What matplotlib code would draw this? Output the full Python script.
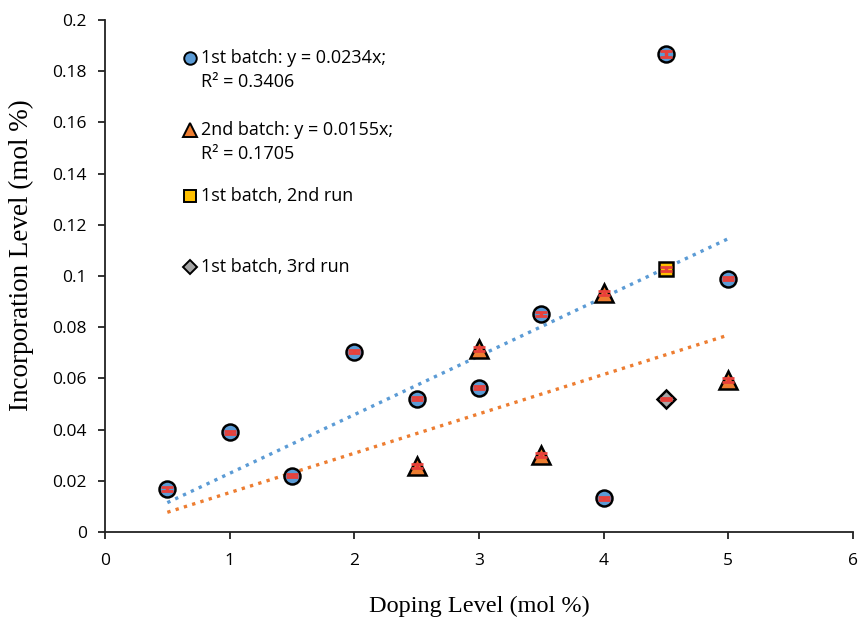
import numpy as np
import matplotlib
matplotlib.use("Agg")
import matplotlib.pyplot as plt

# ---- data ----
b1_x = [0.5, 1.0, 1.5, 2.0, 2.5, 3.0, 3.5, 4.0, 4.5, 5.0]
b1_y = [0.0168, 0.0390, 0.0219, 0.0704, 0.0520, 0.0564, 0.0852, 0.0132, 0.1866, 0.0990]
b1_err = [0.0008, 0.0006, 0.0006, 0.0006, 0.0006, 0.0006, 0.0008, 0.0006, 0.0012, 0.0006]

b2_x = [2.5, 3.0, 3.5, 4.0, 5.0]
b2_y = [0.0258, 0.0714, 0.0300, 0.0932, 0.0595]
b2_err = [0.0008, 0.0008, 0.0008, 0.0008, 0.0008]

run2_x = [4.5]
run2_y = [0.1027]
run2_err = [0.0008]

run3_x = [4.5]
run3_y = [0.0520]
run3_err = [0.0005]

legend_lines = [["1st batch: y = 0.0234x;", "R\u00b2 = 0.3406"],
                ["2nd batch: y = 0.0155x;", "R\u00b2 = 0.1705"],
                ["1st batch, 2nd run"],
                ["1st batch, 3rd run"]]

x_ticks = [0, 1, 2, 3, 4, 5, 6]
y_ticks = [0, 0.02, 0.04, 0.06, 0.08, 0.1, 0.12, 0.14, 0.16, 0.18, 0.2]
y_tick_labels = ["0", "0.02", "0.04", "0.06", "0.08", "0.1", "0.12", "0.14", "0.16", "0.18", "0.2"]

BLUE = "#5B9BD5"
ORANGE = "#ED7D31"
GOLD = "#FFC000"
GRAY = "#A5A5A5"
RED = "#E8403A"

tick_font = "Open Sans"
label_font = "Liberation Serif"

fig = plt.figure(figsize=(8.58, 6.29), dpi=100)
ax = fig.add_axes([105/858, 1-532/629, 748/858, 512/629])

# trendlines through origin (least squares)
def fit_origin(x, y):
    x = np.asarray(x); y = np.asarray(y)
    return (x*y).sum()/(x*x).sum()

s1 = fit_origin(b1_x, b1_y)
s2 = fit_origin(b2_x, b2_y)
xx = np.array([min(b1_x), max(b1_x)])
ax.plot(xx, s1*xx, ls=(0, (1, 1.6)), color=BLUE, lw=2.4, zorder=2)
xx2 = np.array([min(b1_x), max(b2_x)])
ax.plot(xx2, s2*xx2, ls=(0, (1, 1.6)), color=ORANGE, lw=2.4, zorder=2)

ms = 11.5
mew = 1.8
ax.plot(b1_x, b1_y, 'o', ms=ms, mfc=BLUE, mec='black', mew=mew, zorder=3)
ax.plot(b2_x, b2_y, '^', ms=ms+1, mfc=ORANGE, mec='black', mew=mew, zorder=3)
ax.plot(run2_x, run2_y, 's', ms=ms-1, mfc=GOLD, mec='black', mew=mew, zorder=3)
ax.plot(run3_x, run3_y, 'D', ms=ms-2.5, mfc=GRAY, mec='black', mew=mew, zorder=3)

for xs, ys, es in [(b1_x, b1_y, b1_err), (b2_x, b2_y, b2_err),
                   (run2_x, run2_y, run2_err), (run3_x, run3_y, run3_err)]:
    ax.errorbar(xs, ys, yerr=es, fmt='none', ecolor=RED, elinewidth=2.5,
                capsize=4, capthick=2, zorder=4)

ax.set_xlim(0, 6)
ax.set_ylim(0, 0.2)
ax.set_xticks(x_ticks)
ax.set_xticklabels([str(t) for t in x_ticks], fontname=tick_font, fontsize=12.5)
ax.set_yticks(y_ticks)
ax.set_yticklabels(y_tick_labels, fontname=tick_font, fontsize=12.5)
for s in ['top', 'right']:
    ax.spines[s].set_visible(False)
for s in ['left', 'bottom']:
    ax.spines[s].set_linewidth(1.3)
    ax.spines[s].set_color('#222222')
ax.tick_params(direction='out', length=5, width=1.3, color='#222222', pad=8)
ax.tick_params(axis='x', pad=10)

ax.set_xlabel("Doping Level (mol %)", fontname=label_font, fontsize=17.5)
ax.xaxis.set_label_coords(0.5, (532-596)/512)
ax.set_ylabel("Incorporation Level (mol %)", fontname=label_font, fontsize=19.5)
ax.yaxis.set_label_coords((34-105)/748, (532-255)/512)

# legend (manual, as in the reference)
leg_items = [('o', BLUE, [58, 82], 9), ('^', ORANGE, [130, 154], 9.5),
             ('s', GOLD, [196], 8.5), ('D', GRAY, [267], 7)]
for (m, c, ys_px, s), lines in zip(leg_items, legend_lines):
    yy = [(532 - p)/512 for p in ys_px]
    ax.plot([0.1136], [yy[0]], m, ms=s, mfc=c, mec='black', mew=1.4,
            transform=ax.transAxes, clip_on=False)
    for y, line in zip(yy, lines):
        ax.text(0.129, y, line, transform=ax.transAxes, fontname=tick_font,
                fontsize=13, va='center', ha='left')

fig.savefig("out.png", dpi=100)
